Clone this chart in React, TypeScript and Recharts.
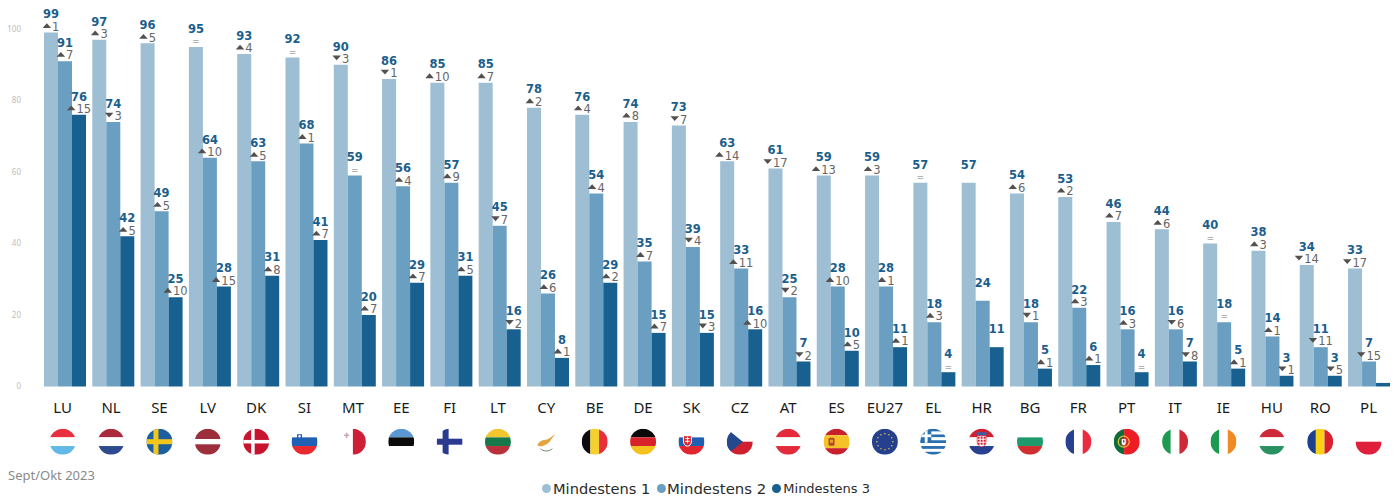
import React from "react";
import { BarChart, Bar, XAxis, YAxis, Legend, LabelList } from "recharts";

const countries = ["LU","NL","SE","LV","DK","SI","MT","EE","FI","LT","CY","BE","DE","SK","CZ","AT","ES","EU27","EL","HR","BG","FR","PT","IT","IE","HU","RO","PL"];
const atLeast1 = [99,97,96,95,93,92,90,86,85,85,78,76,74,73,63,61,59,59,57,57,54,53,46,44,40,38,34,33];
const atLeast2 = [91,74,49,64,63,68,59,56,57,45,26,54,35,39,33,25,28,28,18,24,18,22,16,16,18,14,11,7];
const atLeast3 = [76,42,25,28,31,41,20,29,31,16,8,29,15,15,16,7,10,11,4,11,5,6,4,7,5,3,3,1];
// change in points: positive = up, negative = down, 0 = unchanged, null = not shown
const change1: (number | null)[] = [1,3,5,0,4,0,-3,-1,10,7,2,4,8,-7,14,-17,13,3,0,null,6,2,7,6,0,3,-14,-17];
const change2: (number | null)[] = [7,-3,5,10,5,1,0,4,9,-7,6,4,7,-4,11,-2,10,1,3,null,-1,3,3,-6,0,1,-11,-15];
const change3: (number | null)[] = [15,5,10,15,8,7,7,7,5,-2,1,2,7,-3,10,-2,5,1,0,null,1,1,0,-8,1,-1,-5,null];
const hiddenValues3 = ["PL"];
const seriesNames = ["Mindestens 1","Mindestens 2","Mindestens 3"];
const seriesColors = ["#9dbed3","#6b9fc1","#17608f"];
const period = "Sept/Okt 2023";

const data = countries.map((c, i) => ({ c, a: atLeast1[i], b: atLeast2[i], d: atLeast3[i] }));

const R = 13;
const flagStripes: Record<string, { v?: boolean; colors: string[]; weights?: number[] }> = {
  LU: { colors: ["#e8303f","#ffffff","#62b8e6"] },
  NL: { colors: ["#a82a3c","#ffffff","#2f4b90"] },
  SE: { colors: ["#1d5f9f"] },
  LV: { colors: ["#9c2f3b","#ffffff","#9c2f3b"], weights: [2,1,2] },
  DK: { colors: ["#c8142f"] },
  SI: { colors: ["#ffffff","#1f5fb4","#e8292f"] },
  MT: { v: true, colors: ["#ffffff","#cf1f36"] },
  EE: { colors: ["#5b97d2","#0b0b0b","#ffffff"] },
  FI: { colors: ["#ffffff"] },
  LT: { colors: ["#f3c52f","#17784a","#b9313a"] },
  CY: { colors: ["#ffffff"] },
  BE: { v: true, colors: ["#0c0c0c","#f5d02e","#e8303a"] },
  DE: { colors: ["#0a0a0a","#d8232a","#f4c21c"] },
  SK: { colors: ["#ffffff","#1f5fb4","#e0262f"] },
  CZ: { colors: ["#ffffff","#d0202f"] },
  AT: { colors: ["#e42b3c","#ffffff","#e42b3c"] },
  ES: { colors: ["#c8202c","#f5c22a","#c8202c"], weights: [1,2,1] },
  EU27: { colors: ["#24408f"] },
  EL: { colors: ["#2a6fae","#ffffff","#2a6fae","#ffffff","#2a6fae","#ffffff","#2a6fae","#ffffff","#2a6fae"] },
  HR: { colors: ["#d0202f","#ffffff","#27408f"] },
  BG: { colors: ["#ffffff","#1f9a6c","#cf2f2f"] },
  FR: { v: true, colors: ["#27408f","#ffffff","#ea2c40"] },
  PT: { v: true, colors: ["#0f6b3a","#ee1c25"], weights: [2,3] },
  IT: { v: true, colors: ["#1c9a52","#ffffff","#cf2b37"] },
  IE: { v: true, colors: ["#1c9a52","#ffffff","#f08a24"] },
  HU: { colors: ["#cf2a3a","#ffffff","#2a9160"] },
  RO: { v: true, colors: ["#1f3f8f","#fbd116","#d8202f"] },
  PL: { colors: ["#ffffff","#e01f3d"] },
};

function FlagOverlay({ code }: { code: string }) {
  switch (code) {
    case "SE":
      return (<g fill="#f5c61a"><rect x={-6} y={-R} width={5} height={26} /><rect x={-R} y={-2.5} width={26} height={5} /></g>);
    case "DK":
      return (<g fill="#fff"><rect x={-5} y={-R} width={3.5} height={26} /><rect x={-R} y={-1.75} width={26} height={3.5} /></g>);
    case "FI":
      return (<g fill="#2a3a8e"><rect x={-7} y={-R} width={6} height={26} /><rect x={-R} y={-3} width={26} height={6} /></g>);
    case "SI":
      return (<g><path d="M-7.5 -7.5h5v4a2.5 2.5 0 0 1-5 0z" fill="#1f5fb4" /><circle cx={-5} cy={-5.5} r={1.2} fill="#fff" /></g>);
    case "MT":
      return (<path d="M-7 -9h1.6v1.8h1.8v1.6h-1.8v1.8h-1.6v-1.8h-1.8v-1.6h1.8z" fill="#c9a9ae" />);
    case "SK":
      return (<g><path d="M-8 -6h8v5.5a4 5 0 0 1-8 0z" fill="#e0262f" stroke="#fff" strokeWidth={1} /><path d="M-4.5 -5h1v1.4h1.5v1h-1.5v1.6h1.8v1h-1.8v1.6h-1v-1.6h-1.8v-1h1.8v-1.6h-1.5v-1h1.5z" fill="#fff" /></g>);
    case "CZ":
      return (<path d="M-13 -13L3 0L-13 13z" fill="#234a8f" />);
    case "CY":
      return (<g><path d="M-9 3C-7 -1 -3 -2 0 -2C3 -3 6 -6 9 -8C7 -5 5 -3 4 -1C2 2 -1 3 -3 4C-5 5 -8 5 -9 3z" fill="#e3a53f" /><path d="M-6 7C-3 10 3 10 6 7" fill="none" stroke="#6f8f6a" strokeWidth={1} /></g>);
    case "ES":
      return (<g><rect x={-8} y={-4} width={6} height={8} rx={1.5} fill="#b5482a" /><rect x={-6.5} y={-2} width={3} height={3} fill="#e6a52a" /></g>);
    case "EU27":
      return (<g fill="#f5d545">{Array.from({ length: 12 }).map((_, i) => { const a = (i * Math.PI) / 6; return <circle key={i} cx={8 * Math.cos(a)} cy={8 * Math.sin(a)} r={0.7} />; })}</g>);
    case "EL":
      return (<g><rect x={-R} y={-R} width={11} height={14} fill="#2a6fae" /><rect x={-8.5} y={-R} width={2.8} height={14} fill="#fff" /><rect x={-R} y={-7.3} width={11} height={2.8} fill="#fff" /></g>);
    case "HR":
      return (<g><path d="M-4.5 -6h9v6a4.5 5 0 0 1-9 0z" fill="#fff" stroke="#cf2030" strokeWidth={0.6} /><g fill="#cf2030">{[-4,-1,2].map((x) => [-5,-2,1].map((y) => <rect key={`${x}${y}`} x={x} y={y} width={2} height={2} />))}</g><rect x={-5} y={-9.5} width={10} height={3} fill="#3a5fa8" /></g>);
    case "PT":
      return (<g><circle cx={-3} cy={0} r={5.5} fill="none" stroke="#e8c53a" strokeWidth={1.2} /><path d="M-5.5 -3h5v4a2.5 3 0 0 1-5 0z" fill="#fff" stroke="#c8202c" strokeWidth={0.8} /><rect x={-3.6} y={-1.6} width={1.2} height={2.5} fill="#27408f" /></g>);
    default:
      return null;
  }
}

function Flag({ code, cx, cy }: { code: string; cx: number; cy: number }) {
  const spec = flagStripes[code];
  const weights = spec.weights ?? spec.colors.map(() => 1);
  const total = weights.reduce((s, w) => s + w, 0);
  let pos = -R;
  const id = `flag-${code}`;
  return (
    <g transform={`translate(${cx},${cy})`}>
      <clipPath id={id}><circle cx={0} cy={0} r={R} /></clipPath>
      <g clipPath={`url(#${id})`}>
        {spec.colors.map((color, i) => {
          const size = (weights[i] / total) * (2 * R);
          const rect = spec.v
            ? <rect key={i} x={pos} y={-R} width={size} height={2 * R} fill={color} />
            : <rect key={i} x={-R} y={pos} width={2 * R} height={size} fill={color} />;
          pos += size;
          return rect;
        })}
        <FlagOverlay code={code} />
      </g>
    </g>
  );
}

function CountryTick(props: any) {
  const { x, y, payload, index } = props;
  const nudge = -1.8 * (1 - index / (countries.length - 1));
  return (
    <g>
      <text x={x + nudge} y={y + 26} textAnchor="middle" fontFamily="'Noto Sans'" fontSize={15} fill="#1a1a1a">{payload.value}</text>
      <Flag code={payload.value} cx={x + nudge} cy={y + 55.2} />
    </g>
  );
}

const makeLabel = (changes: (number | null)[], hidden: string[] = []) => (props: any) => {
  const { x, y, width, value, index } = props;
  if (hidden.includes(countries[index])) return null;
  const cx = x + width / 2;
  const ch = changes[index];
  const base = y - 1.7;
  let row: React.ReactNode = null;
  if (ch === 0) {
    row = <text x={cx} y={base - 1} textAnchor="middle" fontFamily="'DejaVu Sans'" fontSize={9} fill="#777">=</text>;
  } else if (ch !== null) {
    const text = String(Math.abs(ch));
    const w = 9.5 + text.length * 7.3;
    const sx = cx - w / 2;
    const tri = ch > 0
      ? `M${sx} ${base - 2.8}L${sx + 4.25} ${base - 7.6}L${sx + 8.5} ${base - 2.8}Z`
      : `M${sx} ${base - 7.6}L${sx + 8.5} ${base - 7.6}L${sx + 4.25} ${base - 2.8}Z`;
    row = (
      <g>
        <path d={tri} fill="#55504e" />
        <text x={sx + 9.5} y={base} fontFamily="'DejaVu Sans'" fontSize={11.5} fill="#666">{text}</text>
      </g>
    );
  }
  return (
    <g>
      <text x={cx} y={y - 14.2} textAnchor="middle" fontFamily="'DejaVu Sans'" fontWeight="bold" fontSize={11.5} fill="#1b5e8c">{value}</text>
      {row}
    </g>
  );
};

const legendSpots = [
  { dot: 546.3, text: 553, size: 14.6, r: 4.5 },
  { dot: 661.3, text: 667, size: 14.9, r: 4.5 },
  { dot: 776, text: 783.3, size: 13, r: 4.5 },
];

function LegendContent(props: any) {
  const { payload } = props;
  return (
    <div style={{ position: "relative", width: 1397, height: 22 }}>
      {(payload ?? []).map((p: any, i: number) => {
        const s = legendSpots[i];
        return (
          <React.Fragment key={p.value}>
            <span style={{ position: "absolute", left: s.dot - s.r, top: 12 - s.r, width: 2 * s.r, height: 2 * s.r, borderRadius: "50%", background: p.color }} />
            <span style={{ position: "absolute", left: s.text, top: 0, lineHeight: "24px", whiteSpace: "nowrap", fontFamily: "'DejaVu Sans'", fontSize: s.size, color: "#2b2b2b" }}>{p.value}</span>
          </React.Fragment>
        );
      })}
    </div>
  );
}

export default function App() {
  return (
    <div style={{ position: "absolute", left: 0, top: 0, width: 1397, height: 498, background: "#fff", overflow: "hidden" }}>
      <BarChart width={1397} height={498} data={data} margin={{ top: 29, right: 4.3, bottom: 0, left: 0 }} barGap={0} barCategoryGap={3.65}>
        <XAxis dataKey="c" interval={0} height={111.5} axisLine={false} tickLine={false} tickSize={0} tickMargin={0} tick={CountryTick} />
        <YAxis width={40.35} domain={[0, 100]} ticks={[0, 20, 40, 60, 80, 100]} axisLine={false} tickLine={false} tickSize={0} tickMargin={19.35} tick={{ fill: "#bdbdbd", fontSize: 8, fontFamily: "'Noto Sans'" }} />
        <Legend verticalAlign="middle" layout="horizontal" wrapperStyle={{ left: 0, top: 476.5, width: 1397, height: 22 }} content={LegendContent} />
        <Bar dataKey="a" name={seriesNames[0]} fill={seriesColors[0]} isAnimationActive={false}>
          <LabelList dataKey="a" content={makeLabel(change1)} />
        </Bar>
        <Bar dataKey="b" name={seriesNames[1]} fill={seriesColors[1]} isAnimationActive={false}>
          <LabelList dataKey="b" content={makeLabel(change2)} />
        </Bar>
        <Bar dataKey="d" name={seriesNames[2]} fill={seriesColors[2]} isAnimationActive={false}>
          <LabelList dataKey="d" content={makeLabel(change3, hiddenValues3)} />
        </Bar>
      </BarChart>
      <div style={{ position: "absolute", left: 8, top: 466, fontFamily: "'Noto Sans'", fontSize: 13, color: "#8a8a8a", whiteSpace: "nowrap" }}>{period}</div>
    </div>
  );
}
